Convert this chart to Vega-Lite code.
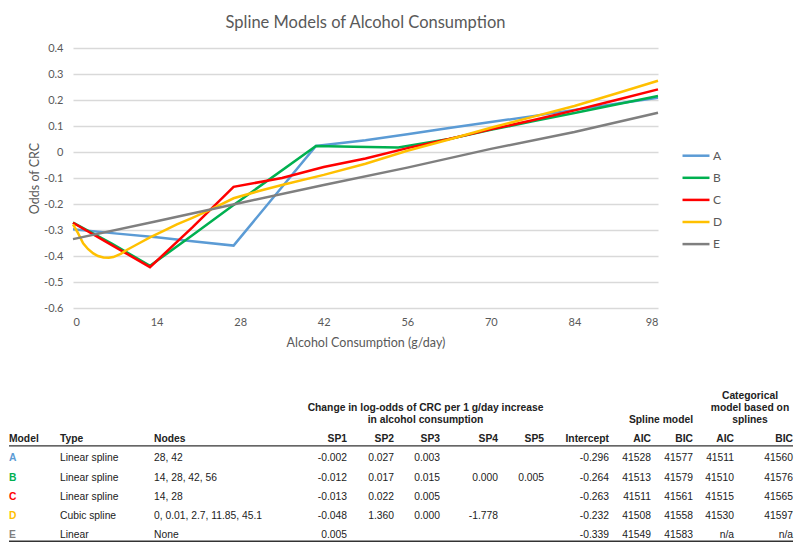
{
 "$schema": "https://vega.github.io/schema/vega-lite/v6.json",
 "padding": {"left": 8, "top": 14, "right": 0, "bottom": 0},
 "background": "white",
 "config": {
  "view": {"stroke": null},
  "text": {"font": "Liberation Sans", "fontSize": 10.3, "color": "#222", "baseline": "middle"},
  "axis": {"labelFont": "Lato", "titleFont": "Lato", "labelColor": "#595959", "titleColor": "#595959", "labelFontSize": 11, "titleFontSize": 12.5, "titleFontWeight": "normal"}
 },
 "datasets": {
  "lines": [
   {"model":"A","g":0,"odds":-0.297},{"model":"A","g":7,"odds":-0.313},{"model":"A","g":14,"odds":-0.328},{"model":"A","g":20,"odds":-0.343},{"model":"A","g":26.9,"odds":-0.36},{"model":"A","g":40.7,"odds":0.023},{"model":"A","g":49,"odds":0.045},{"model":"A","g":56,"odds":0.068},{"model":"A","g":63,"odds":0.092},{"model":"A","g":70,"odds":0.115},{"model":"A","g":77,"odds":0.138},{"model":"A","g":84,"odds":0.162},{"model":"A","g":91,"odds":0.186},{"model":"A","g":98,"odds":0.209},
   {"model":"B","g":0,"odds":-0.272},{"model":"B","g":6.5,"odds":-0.352},{"model":"B","g":12.9,"odds":-0.438},{"model":"B","g":20,"odds":-0.32},{"model":"B","g":26.9,"odds":-0.204},{"model":"B","g":40.7,"odds":0.023},{"model":"B","g":47,"odds":0.02},{"model":"B","g":54.5,"odds":0.017},{"model":"B","g":63,"odds":0.05},{"model":"B","g":70,"odds":0.085},{"model":"B","g":77,"odds":0.118},{"model":"B","g":84,"odds":0.15},{"model":"B","g":91,"odds":0.183},{"model":"B","g":98,"odds":0.215},
   {"model":"C","g":0,"odds":-0.272},{"model":"C","g":6.5,"odds":-0.358},{"model":"C","g":12.9,"odds":-0.443},{"model":"C","g":20,"odds":-0.29},{"model":"C","g":26.9,"odds":-0.134},{"model":"C","g":35,"odds":-0.1},{"model":"C","g":42,"odds":-0.058},{"model":"C","g":49,"odds":-0.025},{"model":"C","g":56,"odds":0.015},{"model":"C","g":63,"odds":0.05},{"model":"C","g":70,"odds":0.087},{"model":"C","g":77,"odds":0.122},{"model":"C","g":84,"odds":0.16},{"model":"C","g":91,"odds":0.2},{"model":"C","g":98,"odds":0.241},
   {"model":"D","g":0,"odds":-0.278},{"model":"D","g":0.8,"odds":-0.31},{"model":"D","g":1.7,"odds":-0.351},{"model":"D","g":2.5,"odds":-0.373},{"model":"D","g":3.4,"odds":-0.39},{"model":"D","g":4.2,"odds":-0.4},{"model":"D","g":5.1,"odds":-0.406},{"model":"D","g":6,"odds":-0.407},{"model":"D","g":6.75,"odds":-0.404},{"model":"D","g":8,"odds":-0.392},{"model":"D","g":9,"odds":-0.377},{"model":"D","g":11,"odds":-0.352},{"model":"D","g":12.9,"odds":-0.328},{"model":"D","g":15,"odds":-0.305},{"model":"D","g":17.4,"odds":-0.278},{"model":"D","g":20,"odds":-0.253},{"model":"D","g":22.95,"odds":-0.223},{"model":"D","g":26.9,"odds":-0.178},{"model":"D","g":31.3,"odds":-0.149},{"model":"D","g":35,"odds":-0.127},{"model":"D","g":42,"odds":-0.088},{"model":"D","g":49,"odds":-0.045},{"model":"D","g":56,"odds":0.005},{"model":"D","g":63,"odds":0.048},{"model":"D","g":70,"odds":0.093},{"model":"D","g":77,"odds":0.135},{"model":"D","g":84,"odds":0.177},{"model":"D","g":91,"odds":0.225},{"model":"D","g":98,"odds":0.274},
   {"model":"E","g":0,"odds":-0.335},{"model":"E","g":14,"odds":-0.266},{"model":"E","g":28,"odds":-0.196},{"model":"E","g":42,"odds":-0.127},{"model":"E","g":56,"odds":-0.06},{"model":"E","g":70,"odds":0.012},{"model":"E","g":84,"odds":0.077},{"model":"E","g":98,"odds":0.151}
  ],
  "table": [
   {"col":"Model","row":"hdr","text":"Model"},{"col":"Model","row":"A","text":"A"},{"col":"Model","row":"B","text":"B"},{"col":"Model","row":"C","text":"C"},{"col":"Model","row":"D","text":"D"},{"col":"Model","row":"E","text":"E"},
   {"col":"Type","row":"hdr","text":"Type"},{"col":"Type","row":"A","text":"Linear spline"},{"col":"Type","row":"B","text":"Linear spline"},{"col":"Type","row":"C","text":"Linear spline"},{"col":"Type","row":"D","text":"Cubic spline"},{"col":"Type","row":"E","text":"Linear"},
   {"col":"Nodes","row":"hdr","text":"Nodes"},{"col":"Nodes","row":"A","text":"28, 42"},{"col":"Nodes","row":"B","text":"14, 28, 42, 56"},{"col":"Nodes","row":"C","text":"14, 28"},{"col":"Nodes","row":"D","text":"0, 0.01, 2.7, 11.85, 45.1"},{"col":"Nodes","row":"E","text":"None"},
   {"col":"SP1","row":"hdr","text":"SP1"},{"col":"SP1","row":"A","text":"-0.002"},{"col":"SP1","row":"B","text":"-0.012"},{"col":"SP1","row":"C","text":"-0.013"},{"col":"SP1","row":"D","text":"-0.048"},{"col":"SP1","row":"E","text":"0.005"},
   {"col":"SP2","row":"hdr","text":"SP2"},{"col":"SP2","row":"A","text":"0.027"},{"col":"SP2","row":"B","text":"0.017"},{"col":"SP2","row":"C","text":"0.022"},{"col":"SP2","row":"D","text":"1.360"},
   {"col":"SP3","row":"grp","text":"Change in log-odds of CRC per 1 g/day increase\nin alcohol consumption"},{"col":"SP3","row":"hdr","text":"SP3"},{"col":"SP3","row":"A","text":"0.003"},{"col":"SP3","row":"B","text":"0.015"},{"col":"SP3","row":"C","text":"0.005"},{"col":"SP3","row":"D","text":"0.000"},
   {"col":"SP4","row":"hdr","text":"SP4"},{"col":"SP4","row":"B","text":"0.000"},{"col":"SP4","row":"D","text":"-1.778"},
   {"col":"SP5","row":"hdr","text":"SP5"},{"col":"SP5","row":"B","text":"0.005"},
   {"col":"Intercept","row":"hdr","text":"Intercept"},{"col":"Intercept","row":"A","text":"-0.296"},{"col":"Intercept","row":"B","text":"-0.264"},{"col":"Intercept","row":"C","text":"-0.263"},{"col":"Intercept","row":"D","text":"-0.232"},{"col":"Intercept","row":"E","text":"-0.339"},
   {"col":"AIC1","row":"hdr","text":"AIC"},{"col":"AIC1","row":"A","text":"41528"},{"col":"AIC1","row":"B","text":"41513"},{"col":"AIC1","row":"C","text":"41511"},{"col":"AIC1","row":"D","text":"41508"},{"col":"AIC1","row":"E","text":"41549"},
   {"col":"BIC1","row":"grp","text":"Spline model"},{"col":"BIC1","row":"hdr","text":"BIC"},{"col":"BIC1","row":"A","text":"41577"},{"col":"BIC1","row":"B","text":"41579"},{"col":"BIC1","row":"C","text":"41561"},{"col":"BIC1","row":"D","text":"41558"},{"col":"BIC1","row":"E","text":"41583"},
   {"col":"AIC2","row":"hdr","text":"AIC"},{"col":"AIC2","row":"A","text":"41511"},{"col":"AIC2","row":"B","text":"41510"},{"col":"AIC2","row":"C","text":"41515"},{"col":"AIC2","row":"D","text":"41530"},{"col":"AIC2","row":"E","text":"n/a"},
   {"col":"BIC2","row":"grp","text":"Categorical\nmodel based on\nsplines"},{"col":"BIC2","row":"hdr","text":"BIC"},{"col":"BIC2","row":"A","text":"41560"},{"col":"BIC2","row":"B","text":"41576"},{"col":"BIC2","row":"C","text":"41565"},{"col":"BIC2","row":"D","text":"41597"},{"col":"BIC2","row":"E","text":"n/a"}
  ]
 },
 "spacing": 41,
 "vconcat": [
  {
   "spacing": 0,
   "hconcat": [
    {"width": 19, "height": 10, "data": {"values": [{}]}, "mark": {"type": "text", "text": ""}, "encoding": {}},
    {
     "width": 585, "height": 260,
     "data": {"name": "lines"},
     "title": {"text": "Spline Models of Alcohol Consumption", "font": "Lato", "fontSize": 16.5, "fontWeight": "normal", "color": "#595959", "offset": 11},
     "mark": {"type": "line", "strokeWidth": 2.5},
     "encoding": {
      "x": {"field": "g", "type": "quantitative", "scale": {"domain": [0, 98], "nice": false},
            "axis": {"values": [0,14,28,42,56,70,84,98], "grid": false, "domain": false, "ticks": false, "tickSize": 0, "labelPadding": 8, "title": "Alcohol Consumption (g/day)", "titlePadding": 9}},
      "y": {"field": "odds", "type": "quantitative", "scale": {"domain": [-0.6, 0.4], "nice": false, "zero": false},
            "axis": {"values": [-0.6,-0.5,-0.4,-0.3,-0.2,-0.1,0,0.1,0.2,0.3,0.4], "labelExpr": "'' + datum.value", "domain": false, "ticks": false, "tickSize": 0, "gridColor": "#D9D9D9", "gridWidth": 1.3, "labelPadding": 10, "title": "Odds of CRC", "titlePadding": 2}},
      "color": {"field": "model", "type": "nominal",
                "scale": {"domain": ["A","B","C","D","E"], "range": ["#5B9BD5","#00B050","#FF0000","#FFC000","#7F7F7F"]},
                "legend": {"orient": "none", "legendX": 679, "legendY": 99.7, "title": null, "symbolType": "M-2,0H2", "symbolSize": 182, "symbolStrokeWidth": 2.5, "labelFont": "Lato", "labelFontSize": 12, "labelColor": "#595959", "rowPadding": 8.1, "labelOffset": 9}}
     }
    }
   ]
  },
  {
   "data": {"name": "table"},
   "spacing": 0,
   "bounds": "flush",
   "hconcat": [
    {"width": 51, "height": 135, "transform": [{"filter": "datum.col == 'Model'"}],
     "encoding": {"y": {"field": "row", "type": "nominal", "scale": {"domain": ["grp","hdr","A","B","C","D","E"], "paddingInner": 0, "paddingOuter": 0}, "axis": null}},
     "layer": [
      {"transform": [{"filter": "datum.row != 'hdr' && datum.row != 'grp'"}], "mark": {"type": "text", "align": "left", "fontWeight": "bold"}, "encoding": {"x": {"value": 0}, "text": {"field": "text"}, "color": {"field": "row", "type": "nominal", "scale": {"domain": ["A","B","C","D","E"], "range": ["#3A5BAF","#2DAA4A","#EE2222","#F7C21C","#A3A3A3"]}, "legend": null}}},
      {"transform": [{"filter": "datum.row == 'hdr'"}], "mark": {"type": "text", "align": "left", "fontWeight": "bold"}, "encoding": {"x": {"value": 0}, "text": {"field": "text"}}},
      {"data": {"values": [{}]}, "mark": {"type": "rule", "color": "#333", "strokeWidth": 1.2}, "encoding": {"y": {"datum": "hdr", "type": "nominal", "bandPosition": 0.86}}},
      {"data": {"values": [{}]}, "mark": {"type": "rule", "color": "#333", "strokeWidth": 1.5}, "encoding": {"y": {"datum": "E", "type": "nominal", "bandPosition": 0.81}}}
     ]},
    {"width": 94, "height": 135, "transform": [{"filter": "datum.col == 'Type'"}],
     "encoding": {"y": {"field": "row", "type": "nominal", "scale": {"domain": ["grp","hdr","A","B","C","D","E"], "paddingInner": 0, "paddingOuter": 0}, "axis": null}},
     "layer": [
      {"transform": [{"filter": "datum.row != 'hdr' && datum.row != 'grp'"}], "mark": {"type": "text", "align": "left"}, "encoding": {"x": {"value": 0}, "text": {"field": "text"}}},
      {"transform": [{"filter": "datum.row == 'hdr'"}], "mark": {"type": "text", "align": "left", "fontWeight": "bold"}, "encoding": {"x": {"value": 0}, "text": {"field": "text"}}},
      {"data": {"values": [{}]}, "mark": {"type": "rule", "color": "#333", "strokeWidth": 1.2}, "encoding": {"y": {"datum": "hdr", "type": "nominal", "bandPosition": 0.86}}},
      {"data": {"values": [{}]}, "mark": {"type": "rule", "color": "#333", "strokeWidth": 1.5}, "encoding": {"y": {"datum": "E", "type": "nominal", "bandPosition": 0.81}}}
     ]},
    {"width": 147, "height": 135, "transform": [{"filter": "datum.col == 'Nodes'"}],
     "encoding": {"y": {"field": "row", "type": "nominal", "scale": {"domain": ["grp","hdr","A","B","C","D","E"], "paddingInner": 0, "paddingOuter": 0}, "axis": null}},
     "layer": [
      {"transform": [{"filter": "datum.row != 'hdr' && datum.row != 'grp'"}], "mark": {"type": "text", "align": "left"}, "encoding": {"x": {"value": 0}, "text": {"field": "text"}}},
      {"transform": [{"filter": "datum.row == 'hdr'"}], "mark": {"type": "text", "align": "left", "fontWeight": "bold"}, "encoding": {"x": {"value": 0}, "text": {"field": "text"}}},
      {"data": {"values": [{}]}, "mark": {"type": "rule", "color": "#333", "strokeWidth": 1.2}, "encoding": {"y": {"datum": "hdr", "type": "nominal", "bandPosition": 0.86}}},
      {"data": {"values": [{}]}, "mark": {"type": "rule", "color": "#333", "strokeWidth": 1.5}, "encoding": {"y": {"datum": "E", "type": "nominal", "bandPosition": 0.81}}}
     ]},
    {"width": 46, "height": 135, "transform": [{"filter": "datum.col == 'SP1'"}],
     "encoding": {"y": {"field": "row", "type": "nominal", "scale": {"domain": ["grp","hdr","A","B","C","D","E"], "paddingInner": 0, "paddingOuter": 0}, "axis": null}},
     "layer": [
      {"transform": [{"filter": "datum.row != 'hdr' && datum.row != 'grp'"}], "mark": {"type": "text", "align": "right"}, "encoding": {"x": {"value": "width"}, "text": {"field": "text"}}},
      {"transform": [{"filter": "datum.row == 'hdr'"}], "mark": {"type": "text", "align": "right", "fontWeight": "bold"}, "encoding": {"x": {"value": "width"}, "text": {"field": "text"}}},
      {"data": {"values": [{}]}, "mark": {"type": "rule", "color": "#333", "strokeWidth": 1.2}, "encoding": {"y": {"datum": "hdr", "type": "nominal", "bandPosition": 0.86}}},
      {"data": {"values": [{}]}, "mark": {"type": "rule", "color": "#333", "strokeWidth": 1.5}, "encoding": {"y": {"datum": "E", "type": "nominal", "bandPosition": 0.81}}}
     ]},
    {"width": 47, "height": 135, "transform": [{"filter": "datum.col == 'SP2'"}],
     "encoding": {"y": {"field": "row", "type": "nominal", "scale": {"domain": ["grp","hdr","A","B","C","D","E"], "paddingInner": 0, "paddingOuter": 0}, "axis": null}},
     "layer": [
      {"transform": [{"filter": "datum.row != 'hdr' && datum.row != 'grp'"}], "mark": {"type": "text", "align": "right"}, "encoding": {"x": {"value": "width"}, "text": {"field": "text"}}},
      {"transform": [{"filter": "datum.row == 'hdr'"}], "mark": {"type": "text", "align": "right", "fontWeight": "bold"}, "encoding": {"x": {"value": "width"}, "text": {"field": "text"}}},
      {"data": {"values": [{}]}, "mark": {"type": "rule", "color": "#333", "strokeWidth": 1.2}, "encoding": {"y": {"datum": "hdr", "type": "nominal", "bandPosition": 0.86}}},
      {"data": {"values": [{}]}, "mark": {"type": "rule", "color": "#333", "strokeWidth": 1.5}, "encoding": {"y": {"datum": "E", "type": "nominal", "bandPosition": 0.81}}}
     ]},
    {"width": 46, "height": 135, "transform": [{"filter": "datum.col == 'SP3'"}],
     "encoding": {"y": {"field": "row", "type": "nominal", "scale": {"domain": ["grp","hdr","A","B","C","D","E"], "paddingInner": 0, "paddingOuter": 0}, "axis": null}},
     "layer": [
      {"transform": [{"filter": "datum.row != 'hdr' && datum.row != 'grp'"}], "mark": {"type": "text", "align": "right"}, "encoding": {"x": {"value": "width"}, "text": {"field": "text"}}},
      {"transform": [{"filter": "datum.row == 'hdr'"}], "mark": {"type": "text", "align": "right", "fontWeight": "bold"}, "encoding": {"x": {"value": "width"}, "text": {"field": "text"}}},
      {"transform": [{"filter": "datum.row == 'grp'"}], "mark": {"type": "text", "align": "center", "fontWeight": "bold", "lineBreak": "\n", "lineHeight": 12, "dx": 8.5, "dy": -12}, "encoding": {"text": {"field": "text"}}},
      {"data": {"values": [{}]}, "mark": {"type": "rule", "color": "#333", "strokeWidth": 1.2}, "encoding": {"y": {"datum": "hdr", "type": "nominal", "bandPosition": 0.86}}},
      {"data": {"values": [{}]}, "mark": {"type": "rule", "color": "#333", "strokeWidth": 1.5}, "encoding": {"y": {"datum": "E", "type": "nominal", "bandPosition": 0.81}}}
     ]},
    {"width": 58, "height": 135, "transform": [{"filter": "datum.col == 'SP4'"}],
     "encoding": {"y": {"field": "row", "type": "nominal", "scale": {"domain": ["grp","hdr","A","B","C","D","E"], "paddingInner": 0, "paddingOuter": 0}, "axis": null}},
     "layer": [
      {"transform": [{"filter": "datum.row != 'hdr' && datum.row != 'grp'"}], "mark": {"type": "text", "align": "right"}, "encoding": {"x": {"value": "width"}, "text": {"field": "text"}}},
      {"transform": [{"filter": "datum.row == 'hdr'"}], "mark": {"type": "text", "align": "right", "fontWeight": "bold"}, "encoding": {"x": {"value": "width"}, "text": {"field": "text"}}},
      {"data": {"values": [{}]}, "mark": {"type": "rule", "color": "#333", "strokeWidth": 1.2}, "encoding": {"y": {"datum": "hdr", "type": "nominal", "bandPosition": 0.86}}},
      {"data": {"values": [{}]}, "mark": {"type": "rule", "color": "#333", "strokeWidth": 1.5}, "encoding": {"y": {"datum": "E", "type": "nominal", "bandPosition": 0.81}}}
     ]},
    {"width": 46, "height": 135, "transform": [{"filter": "datum.col == 'SP5'"}],
     "encoding": {"y": {"field": "row", "type": "nominal", "scale": {"domain": ["grp","hdr","A","B","C","D","E"], "paddingInner": 0, "paddingOuter": 0}, "axis": null}},
     "layer": [
      {"transform": [{"filter": "datum.row != 'hdr' && datum.row != 'grp'"}], "mark": {"type": "text", "align": "right"}, "encoding": {"x": {"value": "width"}, "text": {"field": "text"}}},
      {"transform": [{"filter": "datum.row == 'hdr'"}], "mark": {"type": "text", "align": "right", "fontWeight": "bold"}, "encoding": {"x": {"value": "width"}, "text": {"field": "text"}}},
      {"data": {"values": [{}]}, "mark": {"type": "rule", "color": "#333", "strokeWidth": 1.2}, "encoding": {"y": {"datum": "hdr", "type": "nominal", "bandPosition": 0.86}}},
      {"data": {"values": [{}]}, "mark": {"type": "rule", "color": "#333", "strokeWidth": 1.5}, "encoding": {"y": {"datum": "E", "type": "nominal", "bandPosition": 0.81}}}
     ]},
    {"width": 65, "height": 135, "transform": [{"filter": "datum.col == 'Intercept'"}],
     "encoding": {"y": {"field": "row", "type": "nominal", "scale": {"domain": ["grp","hdr","A","B","C","D","E"], "paddingInner": 0, "paddingOuter": 0}, "axis": null}},
     "layer": [
      {"transform": [{"filter": "datum.row != 'hdr' && datum.row != 'grp'"}], "mark": {"type": "text", "align": "right"}, "encoding": {"x": {"value": "width"}, "text": {"field": "text"}}},
      {"transform": [{"filter": "datum.row == 'hdr'"}], "mark": {"type": "text", "align": "right", "fontWeight": "bold"}, "encoding": {"x": {"value": "width"}, "text": {"field": "text"}}},
      {"data": {"values": [{}]}, "mark": {"type": "rule", "color": "#333", "strokeWidth": 1.2}, "encoding": {"y": {"datum": "hdr", "type": "nominal", "bandPosition": 0.86}}},
      {"data": {"values": [{}]}, "mark": {"type": "rule", "color": "#333", "strokeWidth": 1.5}, "encoding": {"y": {"datum": "E", "type": "nominal", "bandPosition": 0.81}}}
     ]},
    {"width": 42, "height": 135, "transform": [{"filter": "datum.col == 'AIC1'"}],
     "encoding": {"y": {"field": "row", "type": "nominal", "scale": {"domain": ["grp","hdr","A","B","C","D","E"], "paddingInner": 0, "paddingOuter": 0}, "axis": null}},
     "layer": [
      {"transform": [{"filter": "datum.row != 'hdr' && datum.row != 'grp'"}], "mark": {"type": "text", "align": "right"}, "encoding": {"x": {"value": "width"}, "text": {"field": "text"}}},
      {"transform": [{"filter": "datum.row == 'hdr'"}], "mark": {"type": "text", "align": "right", "fontWeight": "bold"}, "encoding": {"x": {"value": "width"}, "text": {"field": "text"}}},
      {"data": {"values": [{}]}, "mark": {"type": "rule", "color": "#333", "strokeWidth": 1.2}, "encoding": {"y": {"datum": "hdr", "type": "nominal", "bandPosition": 0.86}}},
      {"data": {"values": [{}]}, "mark": {"type": "rule", "color": "#333", "strokeWidth": 1.5}, "encoding": {"y": {"datum": "E", "type": "nominal", "bandPosition": 0.81}}}
     ]},
    {"width": 42, "height": 135, "transform": [{"filter": "datum.col == 'BIC1'"}],
     "encoding": {"y": {"field": "row", "type": "nominal", "scale": {"domain": ["grp","hdr","A","B","C","D","E"], "paddingInner": 0, "paddingOuter": 0}, "axis": null}},
     "layer": [
      {"transform": [{"filter": "datum.row != 'hdr' && datum.row != 'grp'"}], "mark": {"type": "text", "align": "right"}, "encoding": {"x": {"value": "width"}, "text": {"field": "text"}}},
      {"transform": [{"filter": "datum.row == 'hdr'"}], "mark": {"type": "text", "align": "right", "fontWeight": "bold"}, "encoding": {"x": {"value": "width"}, "text": {"field": "text"}}},
      {"transform": [{"filter": "datum.row == 'grp'"}], "mark": {"type": "text", "align": "center", "fontWeight": "bold", "lineBreak": "\n", "lineHeight": 12, "dx": -11}, "encoding": {"text": {"field": "text"}}},
      {"data": {"values": [{}]}, "mark": {"type": "rule", "color": "#333", "strokeWidth": 1.2}, "encoding": {"y": {"datum": "hdr", "type": "nominal", "bandPosition": 0.86}}},
      {"data": {"values": [{}]}, "mark": {"type": "rule", "color": "#333", "strokeWidth": 1.5}, "encoding": {"y": {"datum": "E", "type": "nominal", "bandPosition": 0.81}}}
     ]},
    {"width": 41, "height": 135, "transform": [{"filter": "datum.col == 'AIC2'"}],
     "encoding": {"y": {"field": "row", "type": "nominal", "scale": {"domain": ["grp","hdr","A","B","C","D","E"], "paddingInner": 0, "paddingOuter": 0}, "axis": null}},
     "layer": [
      {"transform": [{"filter": "datum.row != 'hdr' && datum.row != 'grp'"}], "mark": {"type": "text", "align": "right"}, "encoding": {"x": {"value": "width"}, "text": {"field": "text"}}},
      {"transform": [{"filter": "datum.row == 'hdr'"}], "mark": {"type": "text", "align": "right", "fontWeight": "bold"}, "encoding": {"x": {"value": "width"}, "text": {"field": "text"}}},
      {"data": {"values": [{}]}, "mark": {"type": "rule", "color": "#333", "strokeWidth": 1.2}, "encoding": {"y": {"datum": "hdr", "type": "nominal", "bandPosition": 0.86}}},
      {"data": {"values": [{}]}, "mark": {"type": "rule", "color": "#333", "strokeWidth": 1.5}, "encoding": {"y": {"datum": "E", "type": "nominal", "bandPosition": 0.81}}}
     ]},
    {"width": 59, "height": 135, "transform": [{"filter": "datum.col == 'BIC2'"}],
     "encoding": {"y": {"field": "row", "type": "nominal", "scale": {"domain": ["grp","hdr","A","B","C","D","E"], "paddingInner": 0, "paddingOuter": 0}, "axis": null}},
     "layer": [
      {"transform": [{"filter": "datum.row != 'hdr' && datum.row != 'grp'"}], "mark": {"type": "text", "align": "right"}, "encoding": {"x": {"value": "width"}, "text": {"field": "text"}}},
      {"transform": [{"filter": "datum.row == 'hdr'"}], "mark": {"type": "text", "align": "right", "fontWeight": "bold"}, "encoding": {"x": {"value": "width"}, "text": {"field": "text"}}},
      {"transform": [{"filter": "datum.row == 'grp'"}], "mark": {"type": "text", "align": "center", "fontWeight": "bold", "lineBreak": "\n", "lineHeight": 12, "dx": -13.5, "dy": -24}, "encoding": {"text": {"field": "text"}}},
      {"data": {"values": [{}]}, "mark": {"type": "rule", "color": "#333", "strokeWidth": 1.2}, "encoding": {"y": {"datum": "hdr", "type": "nominal", "bandPosition": 0.86}}},
      {"data": {"values": [{}]}, "mark": {"type": "rule", "color": "#333", "strokeWidth": 1.5}, "encoding": {"y": {"datum": "E", "type": "nominal", "bandPosition": 0.81}}}
     ]}
   ]
  }
 ]
}
